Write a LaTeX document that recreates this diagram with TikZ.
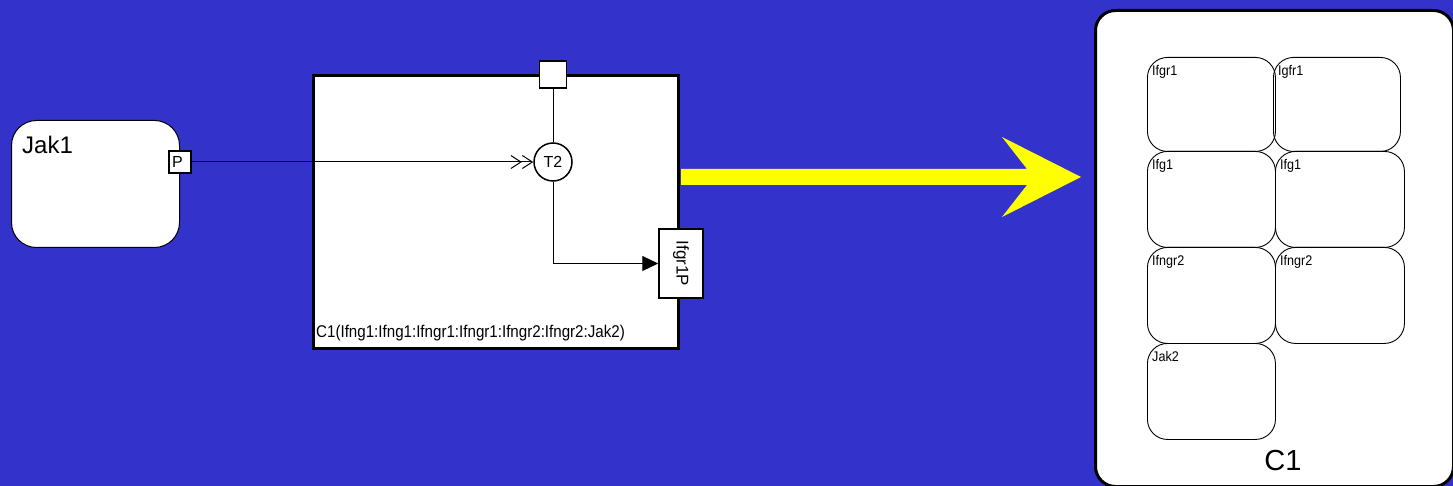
\documentclass[tikz,border=0pt]{standalone}
\usepackage{fontspec}
\setmainfont{Liberation Sans}
\usetikzlibrary{arrows.meta}
\definecolor{bg}{RGB}{51,51,204}
\definecolor{yel}{RGB}{255,255,0}
\tikzset{
  roundbox/.style={draw=black, fill=white, line width=1pt, rounded corners=25pt, anchor=north west, inner sep=0pt},
  portbox/.style={draw=black, fill=white, line width=1.5pt, inner sep=0pt},
  bigbox/.style={draw=black, fill=white, line width=3pt, anchor=north west, inner sep=0pt},
  cellbox/.style={draw=black, line width=0.9pt, rounded corners=20pt, anchor=north west, inner sep=0pt},
  celllbl/.style={anchor=north west, inner sep=0pt, font=\fontsize{14}{14}\selectfont},
  dblopen/.style={-{Straight Barb[length=10pt,width=13pt]Straight Barb[length=10pt,width=13pt]}},
  filltip/.style={-{Triangle[length=16pt,width=15pt]}},
  wire/.style={line width=1pt},
}
\begin{document}
\begin{tikzpicture}[x=1pt,y=-1pt]
\fill[bg] (0,0) rectangle (1453,486);
\useasboundingbox (0,0) rectangle (1453,486);

% Jak1
\node[roundbox, minimum width=168pt, minimum height=127pt] (jak1) at (11,120) {};
\node[anchor=base west, inner sep=0pt, font=\fontsize{24}{24}\selectfont] (jak1lbl) at (22,154) {Jak1};
\node[portbox, text width=16pt, inner xsep=3pt, align=left, minimum height=22pt, font=\fontsize{16}{16}\selectfont] (P) at (180,162) {P};

% C1 compartment
\node[bigbox, minimum width=365pt, minimum height=273pt] (cbox) at (312,74) {};
\node[portbox, minimum size=27pt] (top) at (553,74.5) {};
\node[portbox, circle, minimum size=38pt, font=\fontsize{16}{16}\selectfont] (T2) at (553,162) {T2};
\node[portbox, minimum width=44pt, minimum height=69pt, font=\fontsize{17}{17}\selectfont] (ifgr) at (681,263.5) {\rotatebox{-90}{Ifgr1P}};
\node[anchor=base west, inner sep=0pt] (clbl) at (316,337) {\scalebox{0.89}[1]{\fontsize{17}{17}\selectfont C1(Ifng1:Ifng1:Ifngr1:Ifngr1:Ifngr2:Ifngr2:Jak2)}};

\draw[wire, dblopen] (P.east) -- (T2.west);
\draw[wire] (top.south) -- (T2.north);
\draw[wire, filltip] (T2.south) |- (ifgr.west);

% yellow arrow
\fill[yel] (681,169) -- (1027,169) -- (1002,137) -- (1081,177) -- (1002,217) -- (1027,185) -- (681,185) -- cycle;

% C1 container
\node[bigbox, rounded corners=20pt, minimum width=358pt, minimum height=476pt] (cont) at (1094,9) {};
\node[cellbox, minimum width=128pt, minimum height=94pt] (c11) at (1147,57) {};
\node[cellbox, minimum width=127pt, minimum height=94pt] (c12) at (1273,57) {};
\node[cellbox, minimum width=128pt, minimum height=96pt] (c21) at (1147,151) {};
\node[cellbox, minimum width=129pt, minimum height=96pt] (c22) at (1275,151) {};
\node[cellbox, minimum width=128pt, minimum height=96pt] (c31) at (1147,247) {};
\node[cellbox, minimum width=129pt, minimum height=96pt] (c32) at (1275,247) {};
\node[cellbox, minimum width=128pt, minimum height=96pt] (c41) at (1147,343) {};
\node[celllbl] (l11) at ([shift={(5pt,-8pt)}]c11.north west) {\scalebox{0.9}[1]{Ifgr1}};
\node[celllbl] (l12) at ([shift={(5pt,-8pt)}]c12.north west) {\scalebox{0.9}[1]{Igfr1}};
\node[celllbl] (l21) at ([shift={(5pt,-8pt)}]c21.north west) {\scalebox{0.9}[1]{Ifg1}};
\node[celllbl] (l22) at ([shift={(5pt,-8pt)}]c22.north west) {\scalebox{0.9}[1]{Ifg1}};
\node[celllbl] (l31) at ([shift={(5pt,-8pt)}]c31.north west) {\scalebox{0.9}[1]{Ifngr2}};
\node[celllbl] (l32) at ([shift={(5pt,-8pt)}]c32.north west) {\scalebox{0.9}[1]{Ifngr2}};
\node[celllbl] (l41) at ([shift={(5pt,-8pt)}]c41.north west) {\scalebox{0.9}[1]{Jak2}};
\node[anchor=base, inner sep=0pt, font=\fontsize{29}{29}\selectfont] (contlbl) at (1283,470) {C1};
\end{tikzpicture}
\end{document}
